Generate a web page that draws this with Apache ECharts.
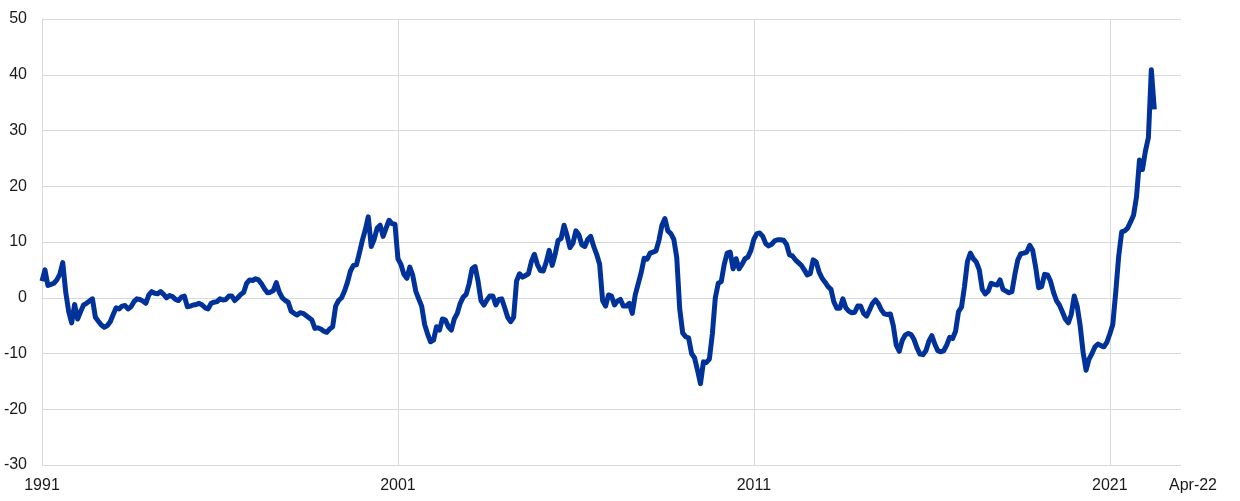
<!DOCTYPE html>
<html>
<head>
<meta charset="utf-8">
<script src="https://cdn.jsdelivr.net/npm/echarts/dist/echarts.min.js"></script>
<style>
html,body{margin:0;padding:0;background:#fff;}
#chart{width:1240px;height:501px;}
</style>
</head>
<body>
<div id="chart"></div>
<script>
// Monthly values, Jan 1991 onwards
var values1991_2000 = [
 3.0, 5.0, 2.2, 2.4, 2.6, 3.2, 4.2, 6.3, 1.0, -2.5, -4.5, -1.2,
 -3.8, -2.5, -1.3, -1.0, -0.6, -0.2, -3.5, -4.2, -4.9, -5.3, -5.0, -4.3,
 -3.0, -1.8, -2.0, -1.5, -1.4, -2.0, -1.6, -0.7, -0.2, -0.3, -0.6, -1.0,
 0.5, 1.1, 0.8, 0.7, 1.1, 0.6, 0.0, 0.4, 0.2, -0.3, -0.5, 0.1,
 0.3, -1.6, -1.5, -1.3, -1.2, -1.0, -1.3, -1.8, -2.0, -1.0, -0.8, -0.7,
 -0.2, -0.4, -0.3, 0.3, 0.3, -0.5, 0.0, 0.6, 1.0, 2.6, 3.2, 3.1,
 3.4, 3.2, 2.5, 1.6, 0.9, 1.0, 1.3, 2.7, 1.0, 0.0, -0.5, -0.8,
 -2.4, -2.8, -3.1, -2.7, -2.8, -3.2, -3.6, -4.0, -5.5, -5.4, -5.6, -6.0,
 -6.2, -5.6, -5.2, -1.5, -0.5, 0.0, 1.2, 2.8, 4.8, 5.8, 5.9, 8.0,
 10.3, 12.2, 14.5, 9.2, 10.5, 12.5, 13.0, 11.0, 12.5, 13.9, 13.3, 13.2
];
var values2001_2010 = [
 7.0, 6.0, 4.2, 3.5, 5.5, 4.0, 1.2, -0.2, -1.5, -4.8, -6.5, -7.9,
 -7.6, -5.2, -5.8, -3.8, -4.0, -5.2, -5.8, -3.8, -2.8, -1.0, 0.1, 0.6,
 2.5, 5.2, 5.6, 3.0, -0.5, -1.3, -0.4, 0.3, 0.3, -1.3, -0.3, -0.2,
 -1.8, -3.5, -4.3, -3.5, 3.0, 4.3, 3.7, 4.0, 4.3, 6.5, 7.8, 6.0,
 4.9, 4.8, 6.4, 8.5, 5.8, 7.8, 10.3, 10.6, 13.0, 11.2, 9.0, 9.8,
 12.0, 11.3, 9.5, 9.2, 10.5, 11.0, 9.2, 7.8, 6.0, -0.5, -1.5, 0.5,
 0.3, -1.3, -0.6, -0.3, -1.5, -1.5, -1.0, -2.8, 0.5, 2.5, 4.5, 7.1,
 6.9, 8.0, 8.2, 8.4, 10.3, 13.0, 14.2, 12.0, 11.5, 10.5, 7.2, -2.0,
 -6.3, -7.0, -7.2, -10.0, -10.8, -13.0, -15.4, -11.5, -11.6, -11.0, -6.5, 0.0,
 2.6, 2.9, 6.0, 8.0, 8.2, 5.2, 7.0, 5.2, 6.0, 7.0, 7.3, 8.5
];
var values2011_2020 = [
 10.5, 11.5, 11.6, 11.0, 9.7, 9.3, 9.6, 10.2, 10.4, 10.4, 10.3, 9.6,
 7.7, 7.5, 6.8, 6.3, 5.8, 5.0, 4.1, 4.3, 6.8, 6.4, 4.6, 3.5,
 2.8, 2.0, 1.5, -0.8, -1.9, -1.9, -0.2, -1.8, -2.4, -2.7, -2.6, -1.5,
 -1.5, -2.8, -3.3, -2.2, -1.0, -0.4, -1.1, -2.2, -2.9, -3.0, -2.9, -5.0,
 -8.5, -9.6, -7.7, -6.7, -6.4, -6.6, -7.5, -9.0, -10.1, -10.2, -9.5, -7.8,
 -6.8, -8.3, -9.5, -9.7, -9.5, -8.5, -7.1, -7.3, -6.0, -2.5, -1.7, 2.0,
 6.5, 8.0, 7.0, 6.4, 5.0, 1.5, 0.7, 1.2, 2.6, 2.4, 2.3, 3.2,
 1.5, 1.2, 0.9, 1.1, 4.2, 6.8, 7.9, 8.0, 8.2, 9.4, 8.5, 5.5,
 1.8, 2.0, 4.2, 4.1, 3.0, 1.0, -0.5, -1.3, -2.5, -3.8, -4.5, -3.0,
 0.3, -1.5, -5.0, -9.8, -13.0, -11.0, -10.0, -8.8, -8.3, -8.6, -8.8, -8.0
];
var values2021_2022 = [
 -6.5, -4.8, 1.0, 7.5, 11.8, 12.0, 12.5, 13.6, 14.8, 18.1, 24.7, 23.0,
 26.3, 28.7, 40.9, 33.8
];

var startYear = 1991;
var endYear = 2023; // axis runs to Jan 2023
var tickIndices = [0, 120, 240, 360, 384];
var tickLabels = ['1991', '2001', '2011', '2021', 'Apr-22'];

var categories = [];
for (var y = startYear; y <= endYear; y++) {
  for (var m = 1; m <= 12; m++) {
    categories.push(y + '-' + (m < 10 ? '0' + m : m));
    if (y === endYear) break;
  }
}
var values = values1991_2000.concat(values2001_2010, values2011_2020, values2021_2022);

var lastIdx = categories.length - 1;
var chart = echarts.init(document.getElementById('chart'), null, {renderer: 'canvas'});
var gridColor = '#d9d9d9';
var textColor = '#1a1a1a';
var font = 'Liberation Sans, Arial, sans-serif';

chart.setOption({
  animation: false,
  backgroundColor: '#ffffff',
  grid: {left: 42, right: 59, top: 19, bottom: 36, containLabel: false},
  xAxis: {
    type: 'category',
    data: categories,
    boundaryGap: false,
    axisLine: {show: true, lineStyle: {color: gridColor, width: 1}},
    axisTick: {show: false},
    axisLabel: {
      interval: function (i) { return tickIndices.indexOf(i) >= 0; },
      formatter: function (v, i) {
        var k = tickIndices.indexOf(i);
        if (k < 0) return '';
        if (i === lastIdx) return '{e|' + tickLabels[k] + '}';
        return tickLabels[k];
      },
      rich: {e: {padding: [0, 0, 0, 24], fontSize: 16, color: textColor, fontFamily: font}},
      fontSize: 16, color: textColor, fontFamily: font, margin: 13
    },
    splitLine: {
      show: true,
      interval: function (i) { return i > 0 && i < lastIdx && tickIndices.indexOf(i) >= 0; },
      lineStyle: {color: gridColor, width: 1}
    }
  },
  yAxis: {
    type: 'value',
    min: -30, max: 50, interval: 10,
    axisLine: {show: true, lineStyle: {color: gridColor, width: 1}},
    axisTick: {show: false},
    axisLabel: {fontSize: 16, color: textColor, fontFamily: font, margin: 15},
    splitLine: {show: true, lineStyle: {color: gridColor, width: 1}}
  },
  series: [{
    type: 'line',
    data: values,
    showSymbol: false,
    symbol: 'none',
    lineStyle: {color: '#003299', width: 5, join: 'round'},
    itemStyle: {color: '#003299'}
  }]
});
</script>
</body>
</html>
